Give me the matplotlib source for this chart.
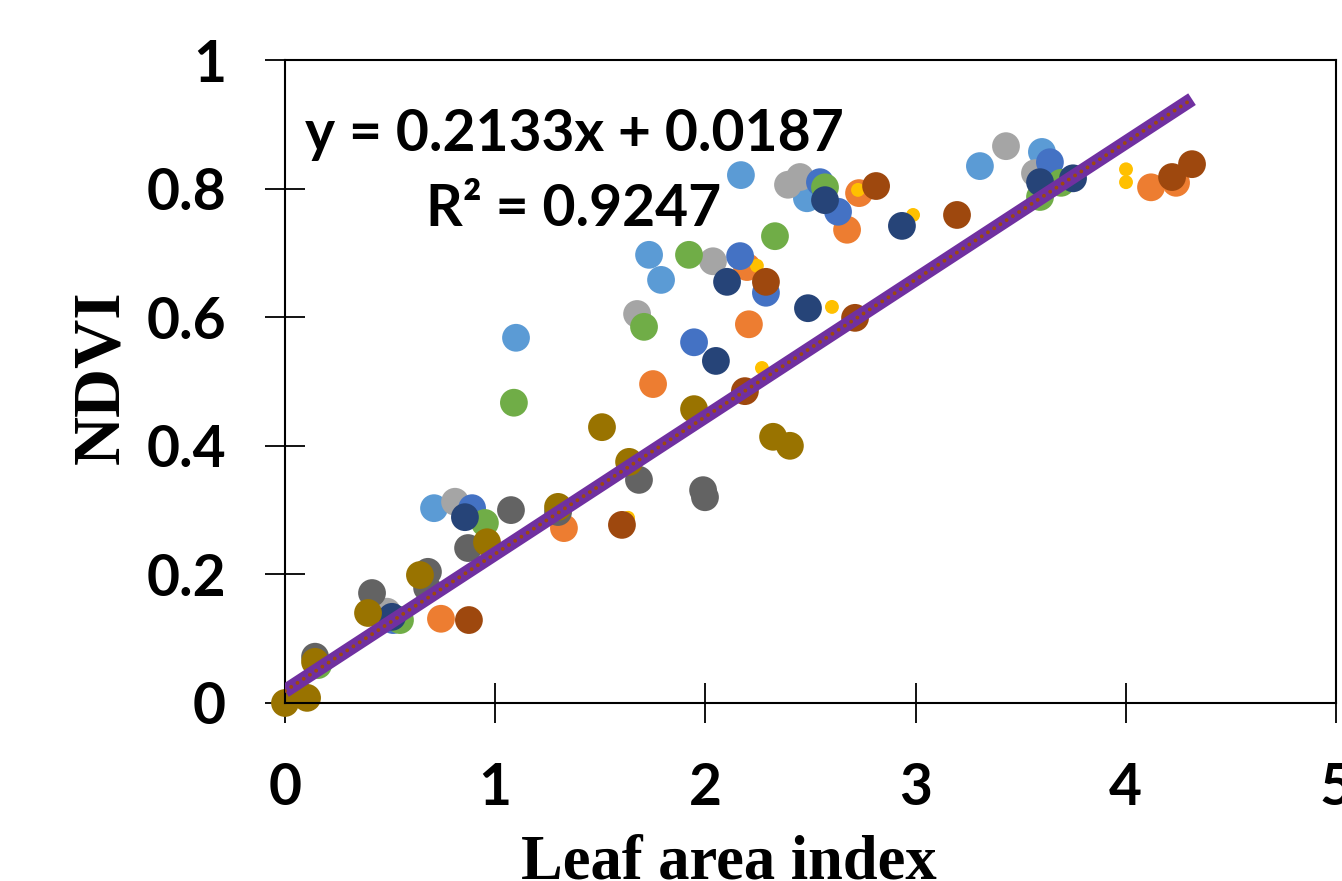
import numpy as np
import matplotlib
matplotlib.use("Agg")
import matplotlib.pyplot as plt

# point values per series (LAI, NDVI)
lightblue_x = [0.709, 1.099, 1.732, 1.789, 2.169, 2.483, 3.306, 3.601]
lightblue_y = [0.303, 0.568, 0.697, 0.658, 0.821, 0.785, 0.835, 0.857]

orange_x = [0.742, 1.327, 1.751, 2.207, 2.198, 2.674, 2.731, 4.120, 4.239]
orange_y = [0.131, 0.272, 0.496, 0.589, 0.678, 0.736, 0.793, 0.802, 0.809]

gray_x = [0.809, 0.485, 1.675, 2.036, 2.393, 2.450, 3.430, 3.568]
gray_y = [0.313, 0.142, 0.605, 0.687, 0.806, 0.818, 0.866, 0.824]

gold_x = [1.632, 2.269, 2.245, 2.602, 2.726, 2.988, 4.001, 4.001]
gold_y = [0.288, 0.521, 0.680, 0.616, 0.798, 0.759, 0.830, 0.810]

blue_x = [0.890, 0.514, 1.946, 2.165, 2.288, 2.545, 2.631, 3.639]
blue_y = [0.303, 0.129, 0.561, 0.695, 0.638, 0.810, 0.764, 0.841]

green_x = [0.157, 0.951, 0.547, 1.089, 1.708, 1.922, 2.331, 2.569, 3.592, 3.692]
green_y = [0.059, 0.280, 0.129, 0.467, 0.585, 0.697, 0.726, 0.802, 0.787, 0.809]

darkblue_x = [0.856, 0.509, 2.050, 2.103, 2.488, 2.569, 2.935, 3.592, 3.749]
darkblue_y = [0.289, 0.134, 0.532, 0.655, 0.614, 0.782, 0.742, 0.810, 0.816]

brown_x = [0.875, 1.603, 2.188, 2.288, 2.712, 2.812, 3.197, 4.220, 4.315]
brown_y = [0.129, 0.277, 0.485, 0.655, 0.599, 0.804, 0.759, 0.818, 0.838]

darkgray_x = [0.143, 0.414, 0.680, 0.676, 0.871, 1.075, 1.299, 1.684, 1.989, 1.998]
darkgray_y = [0.072, 0.171, 0.204, 0.179, 0.241, 0.300, 0.297, 0.347, 0.331, 0.320]

darkgold_x = [0.0, 0.105, 0.143, 0.395, 0.642, 0.961, 1.299, 1.508, 1.637, 1.946, 2.322, 2.402]
darkgold_y = [0.0, 0.008, 0.064, 0.140, 0.199, 0.250, 0.305, 0.429, 0.375, 0.457, 0.414, 0.400]

slope = 0.2133
intercept = 0.0187
r2 = 0.9247

series = [
    (lightblue_x, lightblue_y, "#5B9BD5", 400),
    (orange_x, orange_y, "#ED7D31", 400),
    (gray_x, gray_y, "#A5A5A5", 400),
    (gold_x, gold_y, "#FFC000", 100),
    (blue_x, blue_y, "#4472C4", 400),
    (green_x, green_y, "#70AD47", 400),
    (darkblue_x, darkblue_y, "#264478", 400),
    (brown_x, brown_y, "#9E480E", 400),
    (darkgray_x, darkgray_y, "#636363", 400),
    (darkgold_x, darkgold_y, "#997300", 400),
]

fig = plt.figure(figsize=(13.42, 8.81), dpi=100)
ax = fig.add_axes([285 / 1342, 1 - 703 / 881, 1051 / 1342, 643 / 881])

for xs, ys, col, s in series:
    ax.scatter(xs, ys, s=s, color=col, edgecolors="none", zorder=2, clip_on=False)

all_x = np.concatenate([np.array(s[0]) for s in series])
tx = np.array([0.0, all_x.max()])
ty = slope * tx + intercept
ax.plot(tx, ty, color="#7030A0", lw=10, solid_capstyle="butt", zorder=3)
ax.plot(tx, ty, color="#9E480E", lw=2.8, linestyle=(0, (0.01, 1.9)),
        dash_capstyle="round", zorder=4)

ax.set_xlim(0, 5)
ax.set_ylim(0, 1)
ax.set_xticks([0, 1, 2, 3, 4, 5])
ax.set_yticks([0, 0.2, 0.4, 0.6, 0.8, 1])
ax.set_yticklabels(["0", "0.2", "0.4", "0.6", "0.8", "1"])
for sp in ax.spines.values():
    sp.set_linewidth(1.5)
    sp.set_color("black")
ax.tick_params(direction="inout", length=29, width=1.3, pad=28, colors="black")
for lab in ax.get_xticklabels() + ax.get_yticklabels():
    lab.set_fontfamily("Lato")
    lab.set_fontweight("bold")
    lab.set_fontsize(41)

ax.set_xlabel("Leaf area index", fontfamily="Liberation Serif", fontweight="bold",
              fontsize=45)
ax.xaxis.set_label_coords(0.4224, -0.205)
ax.xaxis.label.set_va("top")
ax.set_ylabel("NDVI", fontfamily="Liberation Serif", fontweight="bold", fontsize=49)
ax.yaxis.set_label_coords(-0.174, 0.507)
ax.yaxis.label.set_va("center")
ax.yaxis.label.set_ha("center")

ax.text(0.275, 0.826, "y = %.4fx + %.4f\nR\u00b2 = %.4f" % (slope, intercept, r2),
        transform=ax.transAxes, ha="center", va="center", multialignment="center",
        fontfamily="Lato", fontweight="bold", fontsize=41, linespacing=1.52, zorder=5)

fig.savefig("out.png", dpi=100)
